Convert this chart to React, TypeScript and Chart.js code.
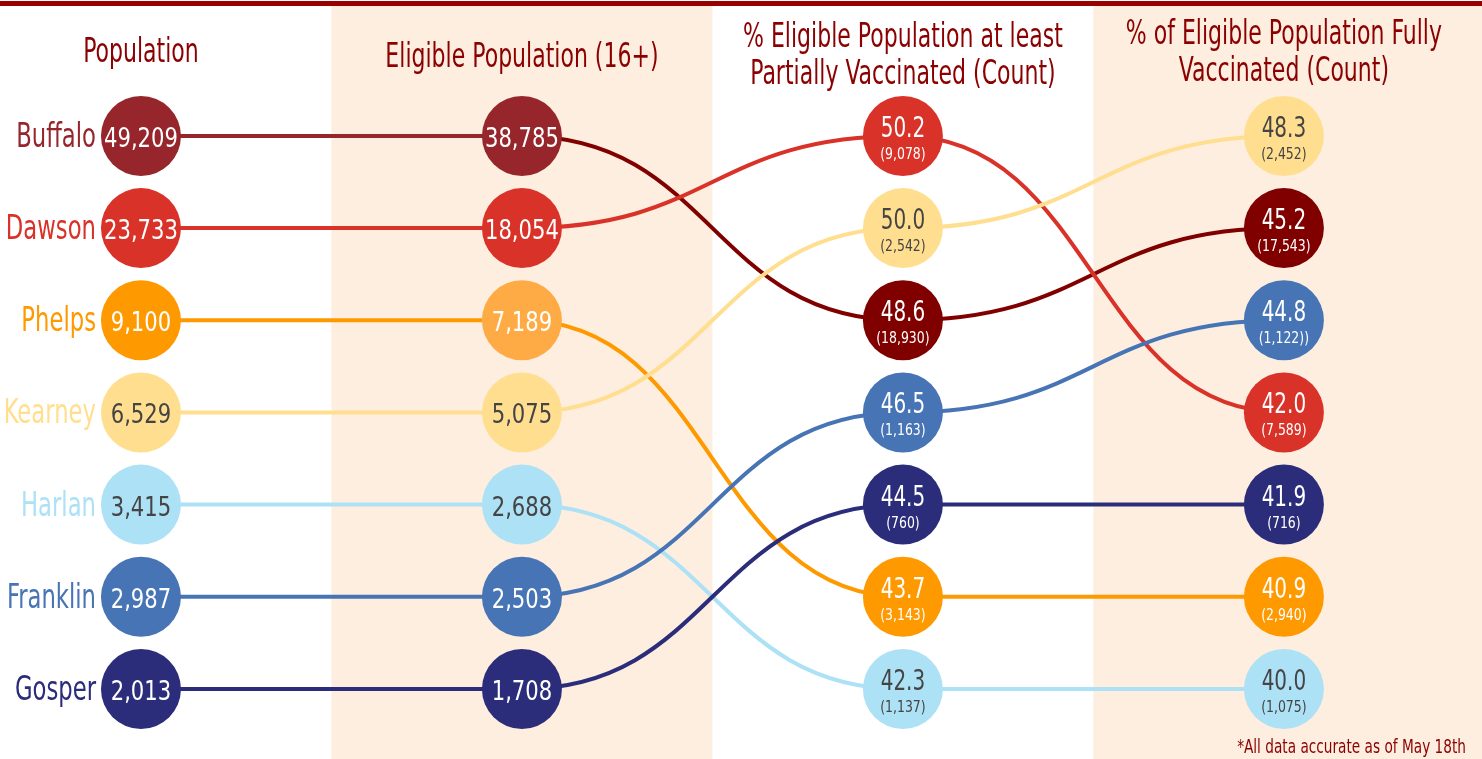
import { useEffect, useRef } from "react";
import { Chart, registerables } from "chart.js";

Chart.register(...registerables);

// ---------- data ----------
const counties = ["Buffalo", "Dawson", "Phelps", "Kearney", "Harlan", "Franklin", "Gosper"];
const columnTitles = [
  ["Population"],
  ["Eligible Population (16+)"],
  ["% Eligible Population at least", "Partially Vaccinated (Count)"],
  ["% of Eligible Population Fully", "Vaccinated (Count)"],
];
const population = [49209, 23733, 9100, 6529, 3415, 2987, 2013];
const eligiblePopulation = [38785, 18054, 7189, 5075, 2688, 2503, 1708];
const partialPct = [48.6, 50.2, 43.7, 50.0, 42.3, 46.5, 44.5];
const partialCountLabels = ["(18,930)", "(9,078)", "(3,143)", "(2,542)", "(1,137)", "(1,163)", "(760)"];
const fullPct = [45.2, 42.0, 40.9, 48.3, 40.0, 44.8, 41.9];
const fullCountLabels = ["(17,543)", "(7,589)", "(2,940)", "(2,452)", "(1,075)", "(1,122))", "(716)"];
const footnote = "*All data accurate as of May 18th";

// ---------- styles ----------
const FONT = "'DejaVu Sans Condensed', 'DejaVu Sans', sans-serif";
const TITLE_COLOR = "#8B0000";
const BAND_COLOR = "#FDEEDF";
const countyColors = ["#96262C", "#D93229", "#FF9900", "#FFDF8F", "#ADE1F5", "#4674B4", "#2B2D7A"];
const pointColors = [
  ["#96262C", "#96262C", "#800000", "#800000"],
  ["#D93229", "#D93229", "#D93229", "#D93229"],
  ["#FF9900", "#FFAB45", "#FF9900", "#FF9900"],
  ["#FFDF8F", "#FFDF8F", "#FFDF8F", "#FFDF8F"],
  ["#ADE1F5", "#ADE1F5", "#ADE1F5", "#ADE1F5"],
  ["#4674B4", "#4674B4", "#4674B4", "#4674B4"],
  ["#2B2D7A", "#2B2D7A", "#2B2D7A", "#2B2D7A"],
];
const segmentColors = [
  ["#96262C", "#800000", "#800000"],
  ["#D93229", "#D93229", "#D93229"],
  ["#FF9900", "#FF9900", "#FF9900"],
  ["#FFDF8F", "#FFDF8F", "#FFDF8F"],
  ["#ADE1F5", "#ADE1F5", "#ADE1F5"],
  ["#4674B4", "#4674B4", "#4674B4"],
  ["#2B2D7A", "#2B2D7A", "#2B2D7A"],
];
const textColors = ["#FFFFFF", "#FFFFFF", "#FFFFFF", "#444444", "#444444", "#FFFFFF", "#FFFFFF"];

function ranksOf(values: number[]) {
  const order = values.map((v, i) => i).sort((a, b) => values[b] - values[a]);
  const r: number[] = new Array(values.length);
  order.forEach((idx, pos) => (r[idx] = pos + 1));
  return r;
}

const columns = [population, eligiblePopulation, partialPct, fullPct];
const columnRanks = columns.map(ranksOf);

function drawText(ctx: CanvasRenderingContext2D, text: string, x: number, y: number, size: number, sx: number, align: CanvasTextAlign) {
  ctx.save();
  ctx.font = `${size}px ${FONT}`;
  ctx.textAlign = align;
  ctx.textBaseline = "alphabetic";
  ctx.translate(x, y);
  ctx.scale(sx, 1);
  ctx.fillText(text, 0, 0);
  ctx.restore();
}

const bgPlugin = {
  id: "bgPlugin",
  beforeDraw(chart: any) {
    const { ctx, width, height } = chart;
    const xs = chart.scales.x;
    ctx.save();
    ctx.fillStyle = "#FFFFFF";
    ctx.fillRect(0, 0, width, height);
    ctx.fillStyle = BAND_COLOR;
    [1, 3].forEach((i) => {
      const l = xs.getPixelForValue(i - 0.5);
      const r = i === 3 ? width : xs.getPixelForValue(i + 0.5);
      ctx.fillRect(l, 6, r - l, height - 6);
    });
    ctx.fillStyle = "#990000";
    ctx.fillRect(0, 1, width, 5);

    // column titles
    ctx.fillStyle = TITLE_COLOR;
    const baselines = [[62], [67], [47, 84], [44, 81]];
    columnTitles.forEach((lines, i) => {
      const x = xs.getPixelForValue(i);
      lines.forEach((t, k) => drawText(ctx, t, x, baselines[i][k], 34, 0.72, "center"));
    });

    // footnote
    drawText(ctx, footnote, width - 16, 753, 20, 0.76, "right");
    ctx.restore();
  },
};

const connectorPlugin = {
  id: "connectorPlugin",
  beforeDatasetsDraw(chart: any) {
    const { ctx } = chart;
    ctx.save();
    ctx.lineWidth = 4;
    ctx.lineCap = "butt";
    chart.data.datasets.forEach((ds: any, d: number) => {
      const pts = chart.getDatasetMeta(d).data;
      for (let k = 0; k < pts.length - 1; k++) {
        const a = pts[k];
        const b = pts[k + 1];
        const mx = (a.x + b.x) / 2;
        ctx.strokeStyle = segmentColors[d][k];
        ctx.beginPath();
        ctx.moveTo(a.x, a.y);
        ctx.bezierCurveTo(mx, a.y, mx, b.y, b.x, b.y);
        ctx.stroke();
      }
    });
    ctx.restore();
  },
};

const labelPlugin = {
  id: "labelPlugin",
  afterDatasetsDraw(chart: any) {
    const { ctx } = chart;
    ctx.save();
    chart.data.datasets.forEach((ds: any, d: number) => {
      const pts = chart.getDatasetMeta(d).data;
      pts.forEach((pt: any, c: number) => {
        ctx.fillStyle = textColors[d];
        if (c < 2) {
          drawText(ctx, columns[c][d].toLocaleString("en-US"), pt.x, pt.y + 11, 27, 0.87, "center");
        } else {
          const pct = columns[c][d].toFixed(1);
          const cnt = c === 2 ? partialCountLabels[d] : fullCountLabels[d];
          drawText(ctx, pct, pt.x, pt.y + 1, 28.5, 0.78, "center");
          drawText(ctx, cnt, pt.x, pt.y + 23, 16.5, 0.84, "center");
        }
      });
      const p0 = pts[0];
      ctx.fillStyle = countyColors[d];
      drawText(ctx, counties[d], p0.x - 45, p0.y + 11, 33, 0.765, "right");
    });
    ctx.restore();
  },
};

export default function App() {
  const canvasRef = useRef<HTMLCanvasElement | null>(null);

  useEffect(() => {
    if (!canvasRef.current) return;
    const datasets = counties.map((name, d) => ({
      label: name,
      data: columns.map((_, c) => ({ x: c, y: columnRanks[c][d] })),
      showLine: false,
      pointRadius: 40,
      pointHoverRadius: 40,
      pointBorderWidth: 0,
      pointHoverBorderWidth: 0,
      pointBackgroundColor: pointColors[d],
      pointHoverBackgroundColor: pointColors[d],
      pointBorderColor: pointColors[d],
    }));
    const chart = new Chart(canvasRef.current, {
      type: "scatter",
      data: { datasets },
      options: {
        animation: false,
        responsive: false,
        events: [],
        layout: { padding: 0, autoPadding: false },
        plugins: { legend: { display: false }, tooltip: { enabled: false } },
        scales: {
          x: { type: "linear", min: -0.37, max: 3.52, display: false },
          y: { type: "linear", reverse: true, min: -0.475, max: 7.76, display: false },
        },
      },
      plugins: [bgPlugin, connectorPlugin, labelPlugin],
    });
    return () => chart.destroy();
  }, []);

  return (
    <div style={{ position: "fixed", left: 0, top: 0, width: 1482, height: 759, background: "#fff" }}>
      <canvas ref={canvasRef} width={1482} height={759} style={{ display: "block" }} />
    </div>
  );
}
